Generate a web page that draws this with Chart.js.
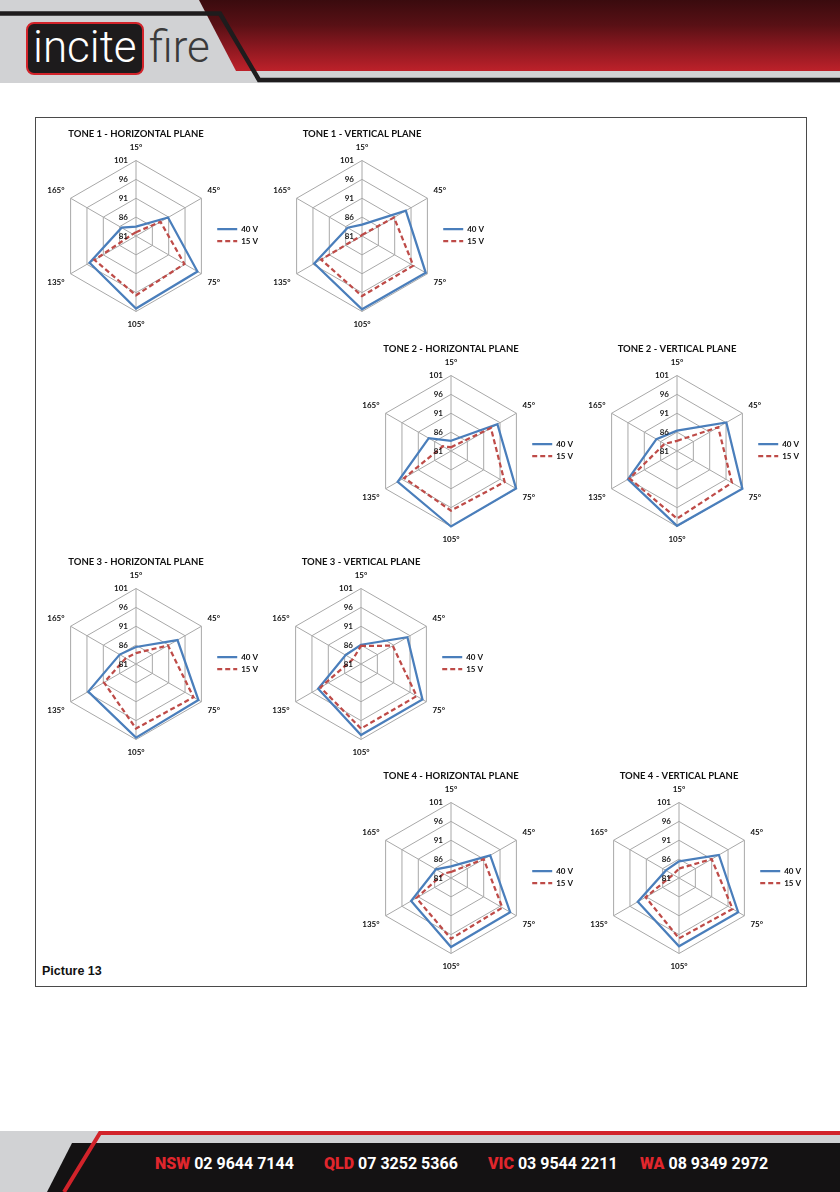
<!DOCTYPE html>
<html>
<head>
<meta charset="utf-8">
<script src="https://cdn.jsdelivr.net/npm/chart.js@4.4.1/dist/chart.umd.min.js"></script>
<style>
  body { margin: 0; width: 840px; height: 1192px; position: relative; overflow: hidden; background: #fff; font-family: Lato, sans-serif; }
  .abs { position: absolute; }
  #hdrBg { left: 0; top: 0; width: 840px; height: 83px; background: #d1d2d4; }
  #hdrRed { left: 0; top: 0; width: 840px; height: 71px;
    background: linear-gradient(180deg, #3a0b0e 0%, #581015 35%, #8d1820 68%, #bd212a 100%);
    clip-path: polygon(199px 0, 840px 0, 840px 71px, 236px 71px); }
  #logo { left: 26px; top: 22px; width: 114px; height: 49px; background: #1d1b1c; border: 2px solid #d2232a; border-radius: 8px; }
  .logoTxt { font-family: Roboto, sans-serif; font-weight: 300; font-size: 44px; line-height: 44px; }
  #frame { left: 35px; top: 117px; width: 770px; height: 868px; border: 1px solid #4a4a4a; }
  #pic { left: 42px; top: 964px; font: bold 12.5px "Liberation Sans", Arial, sans-serif; color: #111; }
  .phone { top: 1154px; font: bold 16px Roboto, sans-serif; color: #fff; white-space: nowrap; }
  .phone b { color: #e0262d; }
</style>
</head>
<body>
<div id="hdrBg" class="abs"></div>
<div id="hdrRed" class="abs"></div>
<svg class="abs" style="left:0;top:0" width="840" height="90">
  <polyline points="0,13.5 220,13.5 259,80 840,80" fill="none" stroke="#1e1c1d" stroke-width="4.5"/>
</svg>
<div id="logo" class="abs"></div>
<div class="abs logoTxt" style="left:33px;top:25px;color:#fff">incite</div>
<div class="abs logoTxt" style="left:149px;top:25px;color:#3a3a3a">fire</div>

<div id="frame" class="abs"></div>
<div id="pic" class="abs">Picture 13</div>

<svg class="abs" style="left:0;top:1131px" width="840" height="61">
  <rect x="0" y="0" width="840" height="61" fill="#d1d2d4"/>
  <polygon points="72,12 840,12 840,61 47,61" fill="#141213"/>
  <polyline points="840,2 100,2 64,61" fill="none" stroke="#d2232a" stroke-width="4"/>
</svg>
<div class="abs phone" style="left:155px"><b>NSW</b> 02 9644 7144</div>
<div class="abs phone" style="left:324px"><b>QLD</b> 07 3252 5366</div>
<div class="abs phone" style="left:488px"><b>VIC</b> 03 9544 2211</div>
<div class="abs phone" style="left:640px"><b>WA</b> 08 9349 2972</div>

<script>
// axes round each radar, clockwise from the top
const angles = ['15°', '45°', '75°', '105°', '135°', '165°'];
const scaleTicks = [81, 86, 91, 96, 101];
const seriesNames = ['40 V', '15 V'];

// readings, one value per angle
const tone1H40 = [83.5, 90.8, 99.8, 100.2, 95.2, 85.4];
const tone1H15 = [82, 88.5, 95.8, 96.7, 93.7, 82];
const tone1V40 = [84, 94.4, 100.5, 100.4, 95.6, 85.4];
const tone1V15 = [81.3, 90.8, 96.7, 96.9, 93.5, 81.2];
const tone2H40 = [83.7, 95.2, 100.9, 101, 97.3, 87.8];
const tone2H15 = [82, 93.2, 97.4, 96.8, 95.3, 83.5];
const tone2V40 = [86.4, 96.1, 101, 100.8, 96, 87.3];
const tone2V15 = [83.7, 93.6, 97.8, 98.9, 95.5, 84.8];
const tone3H40 = [85.5, 93.7, 100.1, 100.5, 95.6, 86];
const tone3H15 = [83.9, 90.8, 98.6, 98.1, 90.8, 84.1];
const tone3V40 = [86.1, 95.2, 99.8, 99.8, 94.1, 85.7];
const tone3V15 = [85.8, 90.7, 98, 98.1, 93.4, 83.5];
const tone4H40 = [84.1, 93, 99.1, 99.3, 93.2, 85.6];
const tone4H15 = [82.6, 91, 96.7, 97.1, 91.6, 83.3];
const tone4V40 = [85.4, 93.2, 99.1, 99.1, 93.6, 85];
const tone4V15 = [83.5, 91, 97.4, 97, 91.2, 82.8];

const BLUE = '#4a7ebb';
const RED = '#be4b48';
const GRID = '#a8a8a8';
const FONT = 'Lato, "Open Sans", sans-serif';

// canvas box around each radar centre
const W = 264, H = 226, CX = 132, CY = 114, RADIUS = 75.5;

const charts = [
  { title: 'TONE 1 - HORIZONTAL PLANE', x: 136, y: 236, a: tone1H40, b: tone1H15 },
  { title: 'TONE 1 - VERTICAL PLANE', x: 362, y: 236, a: tone1V40, b: tone1V15 },
  { title: 'TONE 2 - HORIZONTAL PLANE', x: 451, y: 451, a: tone2H40, b: tone2H15 },
  { title: 'TONE 2 - VERTICAL PLANE', x: 677, y: 451, a: tone2V40, b: tone2V15 },
  { title: 'TONE 3 - HORIZONTAL PLANE', x: 136, y: 664, a: tone3H40, b: tone3H15 },
  { title: 'TONE 3 - VERTICAL PLANE', x: 361, y: 664, a: tone3V40, b: tone3V15 },
  { title: 'TONE 4 - HORIZONTAL PLANE', x: 451, y: 878, a: tone4H40, b: tone4H15 },
  { title: 'TONE 4 - VERTICAL PLANE', x: 679, y: 878, a: tone4V40, b: tone4V15 }
];

// Excel puts the value labels just left of the vertical axis
const tickLabels = {
  id: 'tickLabels',
  afterDatasetsDraw(chart) {
    const s = chart.scales.r;
    const ctx = chart.ctx;
    ctx.save();
    ctx.font = 'bold 8px ' + FONT;
    ctx.fillStyle = '#1a1a1a';
    ctx.textAlign = 'right';
    ctx.textBaseline = 'middle';
    s.ticks.forEach(t => {
      ctx.fillText(t.label, s.xCenter - 8, s.yCenter - s.getDistanceFromCenterForValue(t.value));
    });
    ctx.restore();
  }
};

charts.forEach(c => {
  const cv = document.createElement('canvas');
  cv.width = W;
  cv.height = H;
  cv.style.cssText = `position:absolute;left:${c.x - CX}px;top:${c.y - CY}px`;
  document.body.appendChild(cv);

  new Chart(cv, {
    type: 'radar',
    data: {
      labels: angles,
      datasets: [
        { label: seriesNames[0], data: c.a, borderColor: BLUE, borderWidth: 2.25, fill: false,
          pointRadius: 0, order: 1, clip: false },
        { label: seriesNames[1], data: c.b, borderColor: RED, borderWidth: 2.25, borderDash: [5, 3],
          fill: false, pointRadius: 0, order: 0, clip: false }
      ]
    },
    options: {
      responsive: false,
      animation: false,
      devicePixelRatio: 1,
      layout: { padding: 0 },
      elements: { line: { tension: 0, borderJoinStyle: 'miter' } },
      plugins: {
        title: {
          display: true, text: c.title, color: '#111',
          font: { family: FONT, size: 9.5, weight: 'bold' },
          padding: { top: 6, bottom: 4 }
        },
        legend: {
          position: 'right',
          align: 'center',
          labels: {
            usePointStyle: true,
            pointStyleWidth: 20,
            boxHeight: 8,
            padding: 4,
            color: '#111',
            font: { family: FONT, size: 8, weight: 'bold' },
            generateLabels: chart => chart.data.datasets.map((d, i) => ({
              text: d.label, strokeStyle: d.borderColor, fillStyle: d.borderColor,
              lineWidth: 2.25, lineDash: d.borderDash || [], pointStyle: 'line',
              fontColor: '#111', hidden: false, datasetIndex: i
            }))
          }
        },
        tooltip: { enabled: false }
      },
      scales: {
        r: {
          min: scaleTicks[0],
          max: scaleTicks[scaleTicks.length - 1],
          ticks: { stepSize: scaleTicks[1] - scaleTicks[0], display: false },
          grid: { color: GRID, lineWidth: 1 },
          angleLines: { color: GRID, lineWidth: 1 },
          pointLabels: {
            color: '#111',
            font: { family: FONT, size: 8, weight: 'bold' },
            padding: ctx => (ctx.index % 3 === 0 ? 8 : 7)
          },
          // pin the centre and radius so every radar lines up with the page
          afterSetDimensions: s => {
            s._box = { left: s.left, right: s.right, top: s.top, bottom: s.bottom };
            s.left = -9999; s.right = 9999; s.top = -9999; s.bottom = 9999;
            s.xCenter = CX; s.yCenter = CY; s.drawingArea = RADIUS;
          },
          afterFit: s => { Object.assign(s, s._box); }
        }
      }
    },
    plugins: [tickLabels]
  });
});
</script>
</body>
</html>
